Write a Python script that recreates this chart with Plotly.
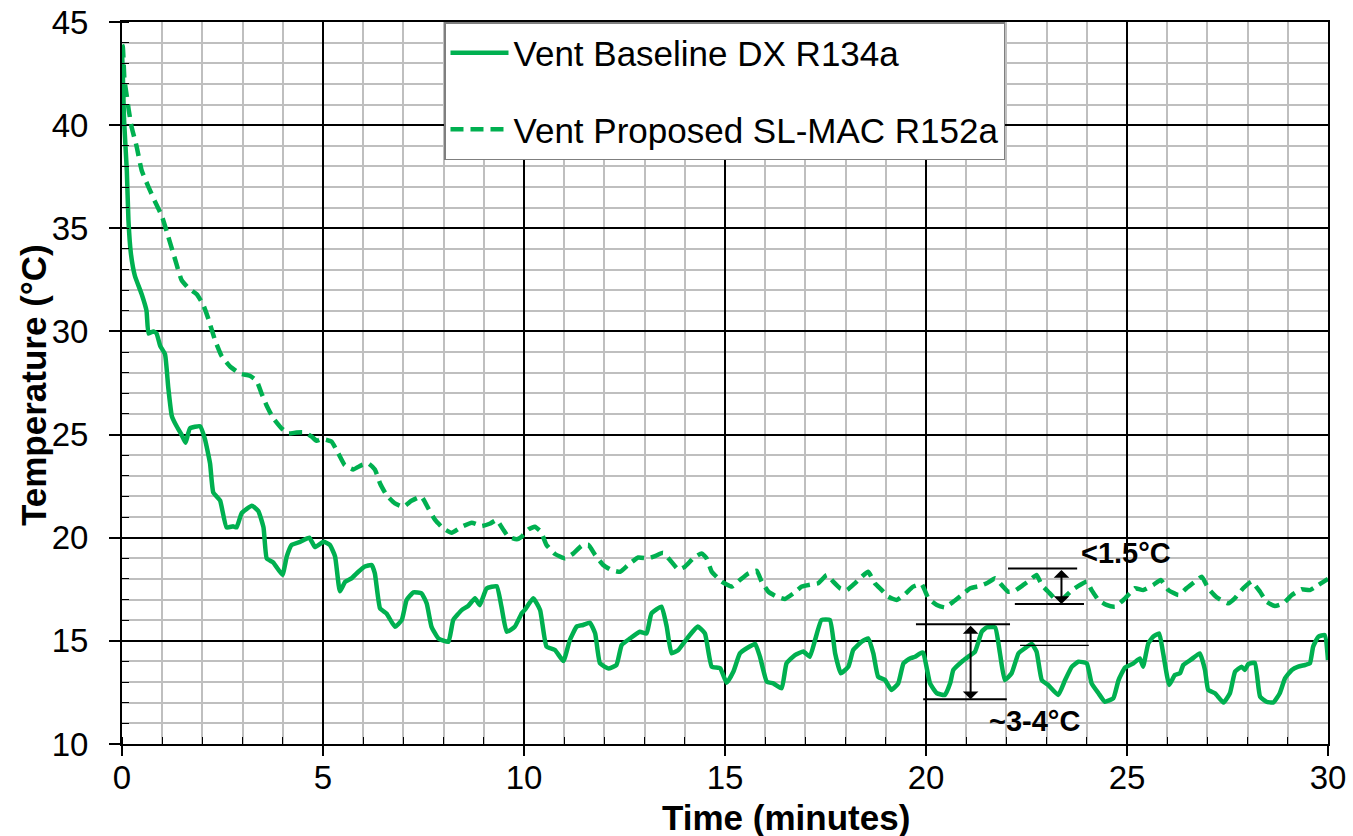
import plotly.graph_objects as go

# ---------------- data ----------------
time_base = [0.00, 0.02, 0.05, 0.12, 0.16, 0.22, 0.32, 0.49, 0.61, 0.66, 0.78, 0.86, 0.95, 1.07, 1.15,
             1.24, 1.36, 1.48, 1.58, 1.69, 1.94, 2.06, 2.19, 2.27, 2.44, 2.60, 2.77, 2.85, 2.98, 3.23,
             3.39, 3.52, 3.60, 3.76, 3.99, 4.10, 4.22, 4.43, 4.66, 4.80, 5.01, 5.17, 5.30, 5.42, 5.55,
             5.71, 5.88, 6.04, 6.21, 6.29, 6.42, 6.58, 6.79, 6.96, 7.08, 7.25, 7.45, 7.58, 7.70, 7.87,
             8.12, 8.24, 8.45, 8.61, 8.78, 8.90, 9.07, 9.32, 9.44, 9.57, 9.77, 9.94, 10.02, 10.23, 10.40,
             10.56, 10.77, 10.98, 11.14, 11.31, 11.47, 11.64, 11.77, 11.89, 12.10, 12.30, 12.43, 12.64,
             12.88, 13.05, 13.17, 13.42, 13.55, 13.67, 13.84, 14.09, 14.32, 14.50, 14.67, 14.88, 15.04,
             15.21, 15.37, 15.54, 15.75, 15.87, 16.04, 16.20, 16.41, 16.53, 16.74, 16.95, 17.11, 17.24,
             17.40, 17.61, 17.74, 17.88, 18.07, 18.19, 18.40, 18.56, 18.69, 18.81, 18.98, 19.14, 19.31,
             19.44, 19.60, 19.73, 19.85, 19.93, 20.10, 20.27, 20.47, 20.60, 20.68, 20.89, 21.05, 21.22,
             21.39, 21.51, 21.72, 21.84, 21.96, 22.13, 22.30, 22.46, 22.63, 22.75, 22.88, 23.04, 23.29,
             23.46, 23.63, 23.79, 24.00, 24.12, 24.29, 24.45, 24.66, 24.79, 24.95, 25.16, 25.32, 25.40,
             25.53, 25.65, 25.80, 25.90, 26.05, 26.19, 26.32, 26.40, 26.60, 26.81, 26.94, 27.02, 27.19,
             27.40, 27.56, 27.69, 27.85, 27.93, 28.02, 28.18, 28.31, 28.47, 28.64, 28.80, 28.93, 29.10,
             29.26, 29.43, 29.55, 29.63, 29.76, 29.92, 30.00]
temp_base = [43.6, 42.5, 40.3, 37.8, 35.4, 33.8, 32.7, 31.8, 31.0, 29.9, 30.0, 29.9, 29.3, 28.9, 27.3,
             25.9, 25.4, 25.0, 24.6, 25.3, 25.4, 24.8, 23.6, 22.2, 21.8, 20.5, 20.55, 20.5, 21.2, 21.55,
             21.3, 20.5, 19.0, 18.8, 18.2, 19.1, 19.65, 19.8, 20.0, 19.55, 19.8, 19.65, 19.1, 17.4, 17.86,
             18.03, 18.35, 18.60, 18.68, 18.27, 16.57, 16.33, 15.68, 16.01, 16.98, 17.35, 17.30, 16.81, 15.68, 15.12,
             14.96, 16.01, 16.49, 16.69, 17.06, 16.73, 17.54, 17.65, 16.65, 15.44, 15.68, 16.33, 16.50, 17.06, 16.50,
             14.72, 14.56, 14.02, 15.04, 15.69, 15.77, 15.88, 15.36, 13.91, 13.66, 13.83, 14.80, 15.12,
             15.44, 15.36, 16.33, 16.66, 15.69, 14.40, 14.56, 15.20, 15.69, 15.36, 13.75, 13.67, 12.97,
             13.51, 14.39, 14.64, 14.85, 14.23, 13.02, 12.94, 12.70, 13.91, 14.31, 14.48, 14.23, 15.04,
             16.01, 16.01, 14.39, 13.43, 13.75, 14.56, 14.96, 15.12, 14.39, 13.26, 13.10, 12.62, 12.94,
             13.91, 14.15, 14.23, 14.39, 14.43, 12.94, 12.46, 12.38, 12.94, 13.59, 13.99, 14.23, 14.48,
             15.45, 15.65, 15.65, 14.39, 13.10, 13.43, 14.39, 14.64, 14.85, 14.48, 13.10, 12.86, 12.38,
             13.10, 13.75, 13.99, 13.91, 12.94, 12.46, 12.05, 12.22, 13.10, 13.70, 13.91, 14.15, 13.75,
             14.88, 15.20, 15.36, 14.39, 12.86, 13.34, 13.43, 13.83, 14.10, 14.39, 13.59, 12.62, 12.46,
             12.01, 12.46, 13.51, 13.75, 13.59, 13.88, 13.94, 12.30, 12.05, 12.01, 12.46, 13.18, 13.59,
             13.75, 13.83, 13.91, 14.72, 15.20, 15.28, 14.07]

time_prop = [0.00, 0.02, 0.06, 0.12, 0.17, 0.24, 0.36, 0.49, 0.66, 0.82, 0.99, 1.15, 1.32, 1.48, 1.65,
             1.86, 2.02, 2.15, 2.31, 2.48, 2.69, 2.94, 3.18, 3.35, 3.47, 3.60, 3.76, 3.97, 4.14, 4.34,
             4.55, 4.72, 4.84, 4.97, 5.21, 5.38, 5.54, 5.75, 5.96, 6.13, 6.29, 6.42, 6.58, 6.79, 7.00,
             7.20, 7.45, 7.62, 7.79, 7.99, 8.20, 8.45, 8.70, 8.95, 9.16, 9.32, 9.49, 9.61, 9.82, 9.94,
             10.11, 10.27, 10.42, 10.56, 10.77, 11.02, 11.23, 11.43, 11.60, 11.77, 11.97, 12.18, 12.39,
             12.59, 12.84, 13.09, 13.26, 13.46, 13.63, 13.84, 14.00, 14.21, 14.42, 14.54, 14.67, 14.83,
             14.92, 15.17, 15.37, 15.58, 15.79, 15.91, 16.08, 16.29, 16.49, 16.70, 16.91, 17.16, 17.32,
             17.53, 17.69, 17.86, 18.03, 18.23, 18.40, 18.56, 18.73, 18.90, 19.06, 19.27, 19.48, 19.68,
             19.89, 20.06, 20.27, 20.47, 20.68, 20.89, 21.10, 21.34, 21.51, 21.72, 21.88, 22.05, 22.21,
             22.42, 22.59, 22.75, 22.88, 23.04, 23.25, 23.41, 23.63, 23.83, 24.00, 24.12, 24.29, 24.49,
             24.70, 24.91, 25.07, 25.20, 25.40, 25.65, 25.84, 26.03, 26.28, 26.48, 26.69, 26.86, 27.02,
             27.23, 27.52, 27.68, 27.89, 28.10, 28.31, 28.47, 28.68, 28.89, 29.10, 29.34, 29.55, 29.76,
             30.00]
temp_prop = [43.9, 43.8, 42.2, 41.4, 40.7, 39.9, 39.0, 37.8, 37.0, 36.3, 35.6, 34.6, 33.5, 32.5, 32.1,
             31.8, 31.3, 30.6, 29.6, 28.8, 28.3, 27.95, 27.85, 27.6, 27.0, 26.4, 25.8, 25.3, 25.05, 25.1,
             25.1, 24.9, 24.7, 24.79, 24.66, 24.09, 23.52, 23.31, 23.52, 23.60, 23.31, 22.63, 22.07, 21.66, 21.50,
             21.79, 21.99, 21.42, 20.86, 20.45, 20.24, 20.53, 20.73, 20.57, 20.69, 20.86, 20.37, 20.05, 19.92, 20.05,
             20.40, 20.53, 20.29, 19.65, 19.21, 19.00, 19.24, 19.60, 19.65, 19.16, 18.68, 18.43, 18.35,
             18.68, 19.04, 19.00, 19.11, 19.27, 18.92, 18.46, 18.59, 19.00, 19.24, 19.00, 18.35, 18.03,
             17.87, 17.63, 17.95, 18.27, 18.40, 17.87, 17.38, 17.14, 17.03, 17.30, 17.63, 17.74, 17.79,
             18.19, 17.87, 17.55, 17.46, 17.79, 18.11, 18.35, 17.79, 17.46, 17.14, 16.98, 17.27, 17.63,
             17.75, 17.06, 16.74, 16.62, 16.90, 17.22, 17.55, 17.66, 17.79, 18.03, 17.71, 17.38, 17.43,
             17.71, 17.95, 18.19, 17.71, 17.38, 16.98, 17.06, 17.46, 17.71, 17.87, 17.46, 16.98, 16.74,
             16.66, 16.98, 17.30, 17.55, 17.46, 17.71, 17.95, 17.46, 17.22, 17.55, 17.87, 18.11, 17.55,
             17.11, 16.82, 17.06, 17.55, 17.87, 17.38, 16.90, 16.69, 16.82, 17.22, 17.50, 17.46, 17.71,
             18.00]

series_names = ["Vent Baseline DX R134a", "Vent Proposed SL-MAC R152a"]

# swing annotations
base_swing_low, base_swing_high = 12.17, 15.80
base_swing_t = (19.93, 22.05)
base_arrow_t = 21.11
base_ref_level = 14.78
base_ref_t = (22.34, 24.05)
prop_swing_low, prop_swing_high = 16.79, 18.51
prop_top_t = (22.04, 23.76)
prop_bot_t = (22.21, 23.93)
prop_arrow_t = 23.37
label_base = "~3-4°C"
label_prop = "<1.5°C"

GREEN = "#00B050"
FONT = "Arial, Liberation Sans, sans-serif"

fig = go.Figure()
fig.add_trace(go.Scatter(x=time_base, y=temp_base, mode="lines", name=series_names[0],
                         legendgroup="a",
                         line=dict(color=GREEN, width=4.5, shape="spline", smoothing=0.4)))
fig.add_trace(go.Scatter(x=time_prop, y=temp_prop, mode="lines", name=series_names[1],
                         legendgroup="b",
                         line=dict(color=GREEN, width=4.5, dash="13px,7px", shape="spline", smoothing=0.4)))

line_k = dict(color="black", width=2)
fig.add_shape(type="line", x0=base_swing_t[0] - 0.18, x1=base_swing_t[1] + 0.04,
              y0=base_swing_high, y1=base_swing_high, line=line_k)
fig.add_shape(type="line", x0=base_swing_t[0], x1=base_swing_t[1] - 0.04,
              y0=base_swing_low, y1=base_swing_low, line=line_k)
fig.add_shape(type="line", x0=base_ref_t[0], x1=base_ref_t[1],
              y0=base_ref_level, y1=base_ref_level, line=dict(color="black", width=1.2))
fig.add_shape(type="line", x0=prop_top_t[0], x1=prop_top_t[1],
              y0=prop_swing_high, y1=prop_swing_high, line=line_k)
fig.add_shape(type="line", x0=prop_bot_t[0], x1=prop_bot_t[1],
              y0=prop_swing_low, y1=prop_swing_low, line=line_k)

arrow_common = dict(text="", showarrow=True, axref="x", ayref="y", arrowhead=1, startarrowhead=1,
                    arrowside="end+start", arrowsize=1.3, arrowwidth=2, arrowcolor="black")
fig.add_annotation(x=base_arrow_t, y=base_swing_low, ax=base_arrow_t, ay=base_swing_high, **arrow_common)
fig.add_annotation(x=prop_arrow_t, y=prop_swing_low, ax=prop_arrow_t, ay=prop_swing_high, **arrow_common)

fig.add_annotation(x=21.52, y=11.11, text=f"<b>{label_base}</b>", showarrow=False, xanchor="left",
                   yanchor="middle", font=dict(family=FONT, size=29, color="black"))
fig.add_annotation(x=23.80, y=19.26, text=f"<b>{label_prop}</b>", showarrow=False, xanchor="left",
                   yanchor="middle", font=dict(family=FONT, size=29, color="black"))

# axis titles
fig.add_annotation(xref="paper", yref="paper", x=(786 - 122) / 1206, y=(744 - 817) / 722,
                   text="<b>Time (minutes)</b>", showarrow=False, xanchor="center", yanchor="middle",
                   font=dict(family=FONT, size=35, color="black"))
fig.add_annotation(xref="paper", yref="paper", x=(33 - 122) / 1206, y=(744 - 385) / 722,
                   text="<b>Temperature (°C)</b>", showarrow=False, textangle=-90,
                   xanchor="center", yanchor="middle",
                   font=dict(family=FONT, size=35, color="black"))

grid_minor = "#BFBFBF"
fig.update_xaxes(range=[0, 30], dtick=5, tick0=0, showgrid=True, gridcolor="black", gridwidth=1.5,
                 zeroline=False, showline=True, linecolor="black", linewidth=2, mirror=True,
                 ticks="outside", ticklen=10, tickwidth=1.5, tickcolor="black", automargin=False,
                 tickfont=dict(family=FONT, size=33, color="black"), ticklabelstandoff=-7,
                 minor=dict(dtick=1, showgrid=True, gridcolor=grid_minor, gridwidth=1.5,
                            ticks="inside", ticklen=7, tickcolor="black", tickwidth=1.2))
fig.update_yaxes(range=[10, 45], dtick=5, tick0=10, showgrid=True, gridcolor="black", gridwidth=1.5,
                 zeroline=False, showline=True, linecolor="black", linewidth=2, mirror=True,
                 ticks="outside", ticklen=11, tickwidth=1.5, tickcolor="black", automargin=False,
                 tickfont=dict(family=FONT, size=33, color="black"), ticklabelstandoff=14,
                 minor=dict(dtick=1, showgrid=True, gridcolor=grid_minor, gridwidth=1.5,
                            ticks="inside", ticklen=7, tickcolor="black", tickwidth=1.2))

fig.update_layout(
    width=1353, height=836,
    margin=dict(l=122, r=25, t=22, b=92, autoexpand=False),
    plot_bgcolor="white", paper_bgcolor="white",
    font=dict(family=FONT, color="black"),
    showlegend=True,
    legend=dict(x=(444 - 122) / 1206, y=1.0, xanchor="left", yanchor="top",
                bgcolor="white", bordercolor="#7F7F7F", borderwidth=1.5,
                font=dict(family=FONT, size=35, color="black"),
                tracegroupgap=28, itemwidth=58, traceorder="grouped"),
)

fig.write_html("out.html", config={"displayModeBar": False},
               post_script="document.body.style.margin='0';document.body.style.overflow='hidden';")
